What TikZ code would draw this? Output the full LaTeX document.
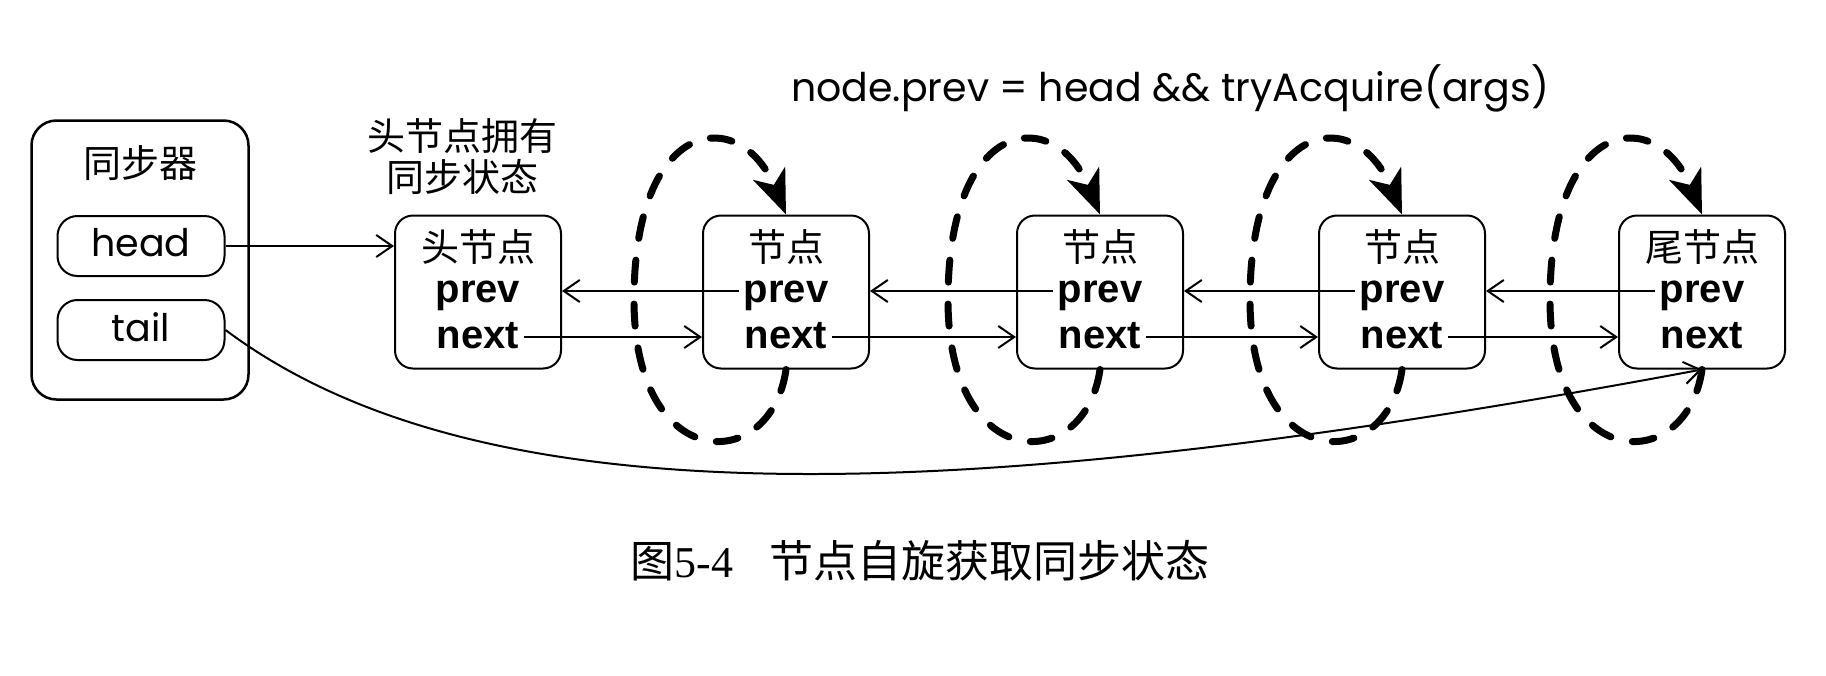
\documentclass[tikz,border=0pt]{standalone}
\usepackage{fontspec}
\setmainfont{Liberation Serif}
\newfontfamily\cjk{Noto Sans CJK SC}
\newfontfamily\geo{Poppins}
\newfontfamily\arialf{Liberation Sans}
\newfontfamily\timesf{Liberation Serif}
\usetikzlibrary{arrows.meta}

\begin{document}
\begin{tikzpicture}
[x=1pt,y=-1pt]
\tikzset{box/.style={draw, line width=2pt, rounded corners=18pt, minimum width=166pt, minimum height=153pt}}
\tikzset{reg/.style={draw, line width=2pt, rounded corners=20pt, minimum width=167pt, minimum height=60pt}}
\tikzset{zh/.style={font=\cjk\fontsize{38}{41}\selectfont, inner sep=0pt}}
\tikzset{fld/.style={font=\arialf\bfseries\fontsize{40}{44}\selectfont, inner xsep=5pt, inner ysep=0pt, anchor=base}}
\tikzset{geo/.style={font=\geo\fontsize{38}{44}\selectfont, inner sep=0pt}}
\tikzset{ptr/.style={line width=2pt, -{Straight Barb[length=16pt,width=22pt]}}}
\tikzset{spin/.style={line width=7pt, line cap=round, dash pattern=on 22pt off 22pt, -{Stealth[length=44pt,width=34pt,inset=12pt]}}}
\useasboundingbox (0,0) rectangle (1826,675);
\node [draw, line width=2.5pt, rounded corners=25pt, minimum width=217pt, minimum height=279pt] (syn) at (140,260) {};
\node [zh] (synt) at (140,163) {同步器};
\node [reg] (hd) at (141,246) {};
\node [geo] (hdt) at (141,243) {head};
\node [reg] (tl) at (141,330) {};
\node [geo] (tlt) at (141,327) {tail};
\node [zh, align=center] (own) at (462,157) {头节点拥有\\同步状态};
\node [geo, font=\geo\fontsize{39.5}{44}\selectfont] (cond) at (1170,88) {node.prev = head \&\& tryAcquire(args)};
\foreach \i/\cx/\lb in {1/478/头节点,2/786/节点,3/1100/节点,4/1402/节点,5/1702/尾节点} {
	\node [box] (n\i) at (\cx,292) {};
	\node [zh] (t\i) at (\cx,247) {\lb};
	\node [fld] (p\i) at (\cx,302) {prev};
	\node [fld] (x\i) at (\cx,348) {next};
}
\draw [ptr] (hd.east) -- (hd.east -| n1.west);
\foreach \a/\b in {1/2,2/3,3/4,4/5} {
	\draw [ptr] ([yshift=11pt]p\b.base west) -- ([yshift=11pt]p\b.base west -| n\a.east);
	\draw [ptr] ([yshift=11pt]x\a.base east) -- ([yshift=11pt]x\a.base east -| n\b.west);
}
\draw [ptr] (tl.east) .. controls (480,520) and (950,510) .. (n5.south);
\foreach \i/\cx in {2/786,3/1100,4/1402,5/1702}
	\draw [spin] (n\i.south) .. controls (\cx-15,475) and (\cx-152,475) .. (\cx-152,300) .. controls (\cx-152,115) and (\cx-45,105) .. (n\i.north);
\node (cap) at (920,561) {\fontsize{44}{50}\selectfont{\cjk 图}{\timesf 5-4}\hspace{36pt}{\cjk 节点自旋获取同步状态}};
\end{tikzpicture}
\end{document}
